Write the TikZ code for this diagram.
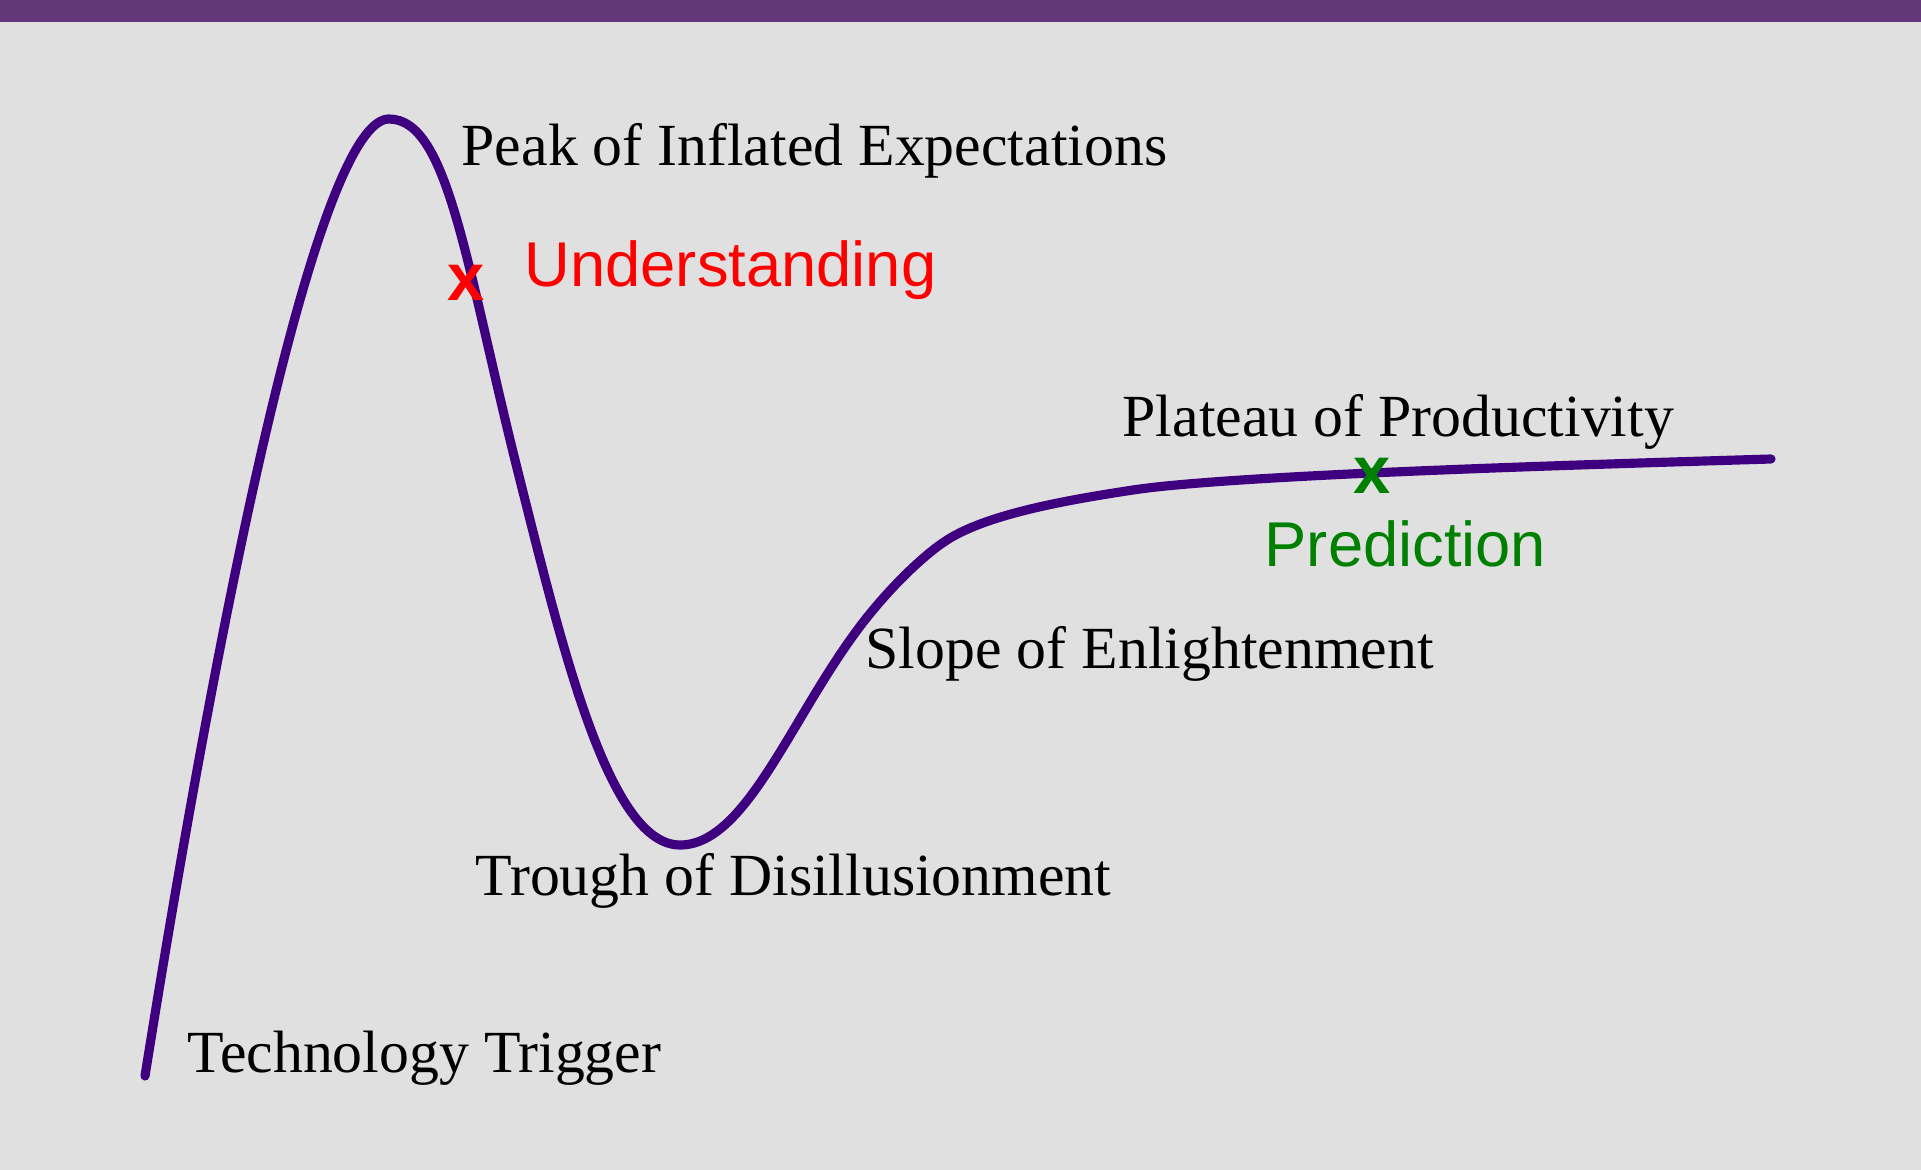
\documentclass[tikz,border=0pt]{standalone}
\usepackage{fontspec}
\setmainfont{Liberation Serif}
\setsansfont{Liberation Sans}
\usepackage{xcolor}
\usepackage{tikz}
\usetikzlibrary{arrows}

\definecolor{bgcol}{HTML}{E0E0E0}
\definecolor{barcol}{HTML}{633677}
\definecolor{hypecol}{HTML}{3F0080}
\definecolor{predcol}{HTML}{008000}
\tikzset{phase/.style={anchor=base west,inner sep=0pt,font=\fontsize{17}{20}\selectfont},
  marklbl/.style={anchor=base west,inner sep=0pt,font=\sffamily\fontsize{18}{21}\selectfont},
  cross/.style={inner sep=0pt,font=\sffamily\bfseries\fontsize{19}{21}\selectfont}}

\begin{document}
\begin{tikzpicture}[x=0.01cm,y=-0.01cm]
\useasboundingbox (0,0) rectangle (1921,1170);
\fill[bgcol] (0,0) rectangle (1921,1170);
\fill[barcol] (0,0) rectangle (1921,22);
% hype curve
\draw[hypecol,line width=2.6pt,line cap=round,line join=round] (145,1076)
  .. controls (241,476) and (329,119) .. (389,119)
  .. controls (449,119) and (466,267) .. (520,480)
  .. controls (564,655) and (610,845) .. (680,845)
  .. controls (750,845) and (796,702) .. (873,610)
  .. controls (892,587) and (922,556) .. (947,540)
  .. controls (989,513) and (1074,499) .. (1133,490)
  .. controls (1232,475) and (1571,465) .. (1771,459);
\node[phase] (peak) at (461,166) {Peak of Inflated Expectations};
\node[phase] (plateau) at (1122,436) {Plateau of Productivity};
\node[phase] (slope) at (865,668) {Slope of Enlightenment};
\node[phase] (trough) at (475,895) {Trough of Disillusionment};
\node[phase] (trigger) at (187,1072) {Technology Trigger};
\node[cross,red] (xund) at (466,283) {x};
\node[marklbl,red] (und) at (524,286) {Understanding};
\node[cross,predcol] (xpred) at (1372,476) {x};
\node[marklbl,predcol] (pred) at (1264,566) {Prediction};
\end{tikzpicture}
\end{document}
